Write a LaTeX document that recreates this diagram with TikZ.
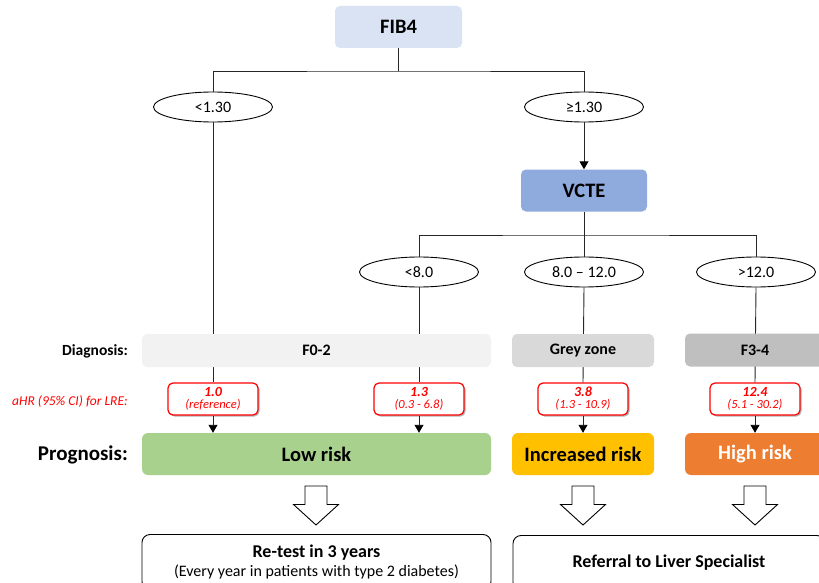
\documentclass[tikz,border=0pt]{standalone}
\usepackage{fontspec}
\setmainfont{Carlito}
\usetikzlibrary{shapes.geometric,arrows.meta,shadows}
\definecolor{fibblue}{HTML}{DAE3F3}
\definecolor{vcteblue}{HTML}{8FAADC}
\definecolor{diaga}{HTML}{F2F2F2}
\definecolor{diagb}{HTML}{D9D9D9}
\definecolor{diagc}{HTML}{BFBFBF}
\definecolor{lowg}{HTML}{A9D18E}
\definecolor{incy}{HTML}{FFC000}
\definecolor{higho}{HTML}{ED7D31}
\definecolor{linec}{HTML}{262626}
\newcommand{\fs}[1]{\pgfmathsetlengthmacro\fsl{1.2*#1pt}\fontsize{#1}{\fsl}\selectfont}
\tikzset{
  topbox/.style={rounded corners=5pt, minimum width=127pt, minimum height=42pt, inner sep=0pt, font=\fs{20.5}\bfseries},
  ell/.style={ellipse, draw=black, line width=0.9pt, fill=white, minimum width=119pt, minimum height=30pt, inner sep=0pt, font=\fs{16}},
  bar/.style={rounded corners=5pt, minimum height=33pt, inner sep=0pt, font=\fs{16}\bfseries},
  prog/.style={rounded corners=6pt, minimum height=42pt, inner sep=0pt, font=\fs{20.5}\bfseries},
  hrbox/.style={draw=red, line width=1.2pt, fill=white, rounded corners=5pt, minimum width=90pt, minimum height=32pt, inner sep=0pt, align=center, text=red,
     drop shadow={shadow xshift=1.5pt, shadow yshift=-1.5pt, opacity=0.3, fill=black}},
  outbox/.style={draw=black, line width=0.9pt, fill=white, rounded corners=8pt, minimum height=55pt, inner sep=0pt, align=center},
  conn/.style={draw=linec, line width=0.9pt},
  arr/.style={conn, -{Triangle[length=8pt,width=9pt,color=black]}},
  sidelab/.style={anchor=east, inner sep=0pt},
  blockarrow/.pic={\draw[line width=0.9pt, fill=white, line join=miter] (-11,0) -- (11,0) -- (11,18.5) -- (22.5,18.5) -- (0,39) -- (-22.5,18.5) -- (-11,18.5) -- cycle;}
}
\begin{document}
\begin{tikzpicture}[x=1pt,y=-1pt]
\useasboundingbox (0,0) rectangle (819,583);
\clip (0,0) rectangle (819,583);
\fill[white] (0,0) rectangle (819,583);

% top level
\node[topbox, fill=fibblue] (fib) at (398.5,27) {FIB4};
\node[ell] (lt) at (213,107) {<1.30};
\node[ell] (ge) at (584,107) {≥1.30};
\node[topbox, fill=vcteblue, minimum width=126pt] (vcte) at (584,190.5) {VCTE};
\node[ell] (e1) at (419,272) {<8.0};
\node[ell] (e2) at (584,272) {8.0 – 12.0};
\node[ell] (e3) at (756,272) {>12.0};

% aHR boxes
\node[hrbox] (hr1) at (213,399) {{\fs{14}\bfseries\itshape 1.0}\\[0pt]{\fs{12.5}\itshape (reference)}};
\node[hrbox] (hr2) at (419,399) {{\fs{14}\bfseries\itshape 1.3}\\[0pt]{\fs{12.5}\itshape (0.3 - 6.8)}};
\node[hrbox] (hr3) at (583,399) {{\fs{14}\bfseries\itshape 3.8}\\[0pt]{\fs{12.5}\itshape (1.3 - 10.9)}};
\node[hrbox] (hr4) at (755,399) {{\fs{14}\bfseries\itshape 12.4}\\[0pt]{\fs{12.5}\itshape (5.1 - 30.2)}};

% connectors
\coordinate (j1) at (398.5,71);
\coordinate (j2) at (584,235);
\draw[conn] (fib.south) -- (j1);
\draw[conn] (lt.north) |- (j1) -| (ge.north);
\draw[arr] (ge.south) -- (vcte.north);
\draw[conn] (vcte.south) -- (e2.north);
\draw[conn] (e1.north) |- (j2) -| (e3.north);
\draw[conn] (lt.south) -- (hr1.north);
\draw[conn] (e1.south) -- (hr2.north);
\draw[conn] (e2.south) -- (hr3.north);
\draw[conn] (e3.south) -- (hr4.north);

% diagnosis bars
\node[bar, fill=diaga, minimum width=349pt] (d1) at (316.5,350.5) {F0-2};
\node[bar, fill=diagb, minimum width=142pt] (d2) at (583,350.5) {Grey zone};
\node[bar, fill=diagc, minimum width=140pt] (d3) at (755,350) {F3-4};

% prognosis
\node[prog, fill=lowg, minimum width=349pt] (p1) at (316.5,454) {Low risk};
\node[prog, fill=incy, minimum width=142pt] (p2) at (583,454) {Increased risk};
\node[prog, fill=higho, minimum width=140pt, text=white] (p3) at (755,454) {High risk};

\draw[arr] (hr1.south) -- (hr1.south |- p1.north);
\draw[arr] (hr2.south) -- (hr2.south |- p1.north);
\draw[arr] (hr3.south) -- (p2.north);
\draw[arr] (hr4.south) -- (p3.north);

% side labels
\node[sidelab, font=\fs{15.5}\bfseries] (ldiag) at (128,351) {Diagnosis:};
\node[sidelab, font=\fs{13.5}\itshape, text=red] (lhr) at (128,401) {aHR (95\% CI) for LRE:};
\node[sidelab, font=\fs{21}\bfseries] (lprog) at (128,455) {Prognosis:};

% block arrows
\pic at (316,486) {blockarrow};
\pic at (583,486) {blockarrow};
\pic at (755,486) {blockarrow};

% outcome boxes
\node[outbox, minimum width=349pt] (o1) at (316.5,562) {{\fs{18}\bfseries Re-test in 3 years}\\[3pt]{\fs{16}(Every year in patients with type 2 diabetes)}};
\node[outbox, minimum width=312pt, font=\fs{18}\bfseries] (o2) at (669,563) {Referral to Liver Specialist};
\end{tikzpicture}
\end{document}
